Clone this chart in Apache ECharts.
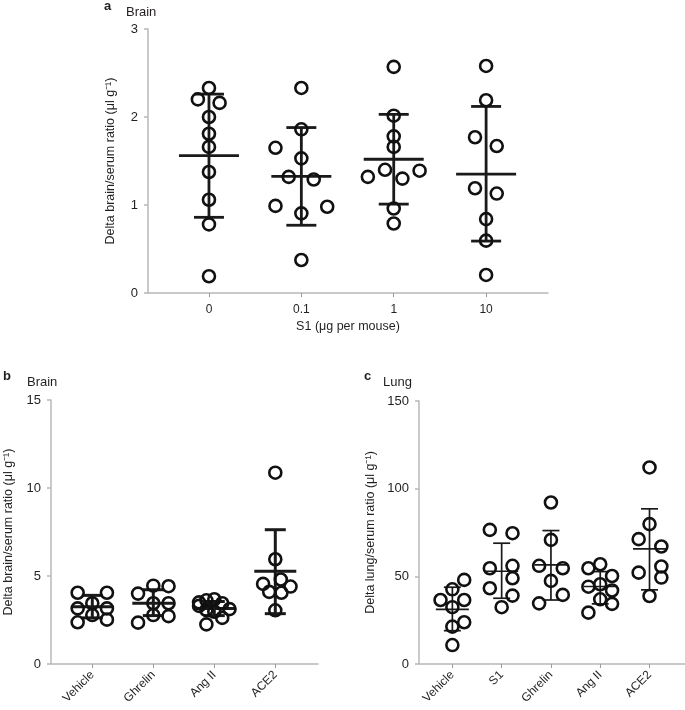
<!DOCTYPE html>
<html>
<head>
<meta charset="utf-8">
<script src="https://cdn.jsdelivr.net/npm/echarts@6/dist/echarts.min.js"></script>
<style>html,body{margin:0;padding:0;background:#fff}#c{width:685px;height:710px}</style>
</head>
<body>
<div id="c"></div>
<script>
// ---------- Panel a: Brain, S1 dose ----------
const catsA = ['0', '0.1', '1', '10'];
const valsA = [
  [2.33, 2.20, 2.16, 2.00, 1.81, 1.66, 1.375, 1.06, 0.78, 0.19],
  [2.33, 1.86, 1.65, 1.53, 1.32, 1.29, 0.99, 0.98, 0.905, 0.375],
  [2.57, 2.015, 1.78, 1.66, 1.40, 1.39, 1.32, 1.30, 0.96, 0.79],
  [2.58, 2.19, 1.77, 1.67, 1.19, 1.13, 0.84, 0.595, 0.205]
];
const jitA = [
  [0, -0.12, 0.115, 0, 0, 0, 0, 0, 0, 0],
  [0, 0, -0.28, 0, -0.137, 0.134, -0.28, 0.28, 0, 0],
  [0, 0, 0, 0, -0.094, 0.28, -0.28, 0.094, 0, 0],
  [0, 0, -0.12, 0.115, -0.12, 0.115, 0, 0, 0]
];
const meanA = [1.56, 1.326, 1.52, 1.35];
const sdLoA = [0.86, 0.77, 1.01, 0.59];
const sdHiA = [2.26, 1.88, 2.03, 2.12];

// ---------- Panel b: Brain ----------
const catsB = ['Vehicle', 'Ghrelin', 'Ang II', 'ACE2'];
const valsB = [
  [4.05, 4.05, 3.45, 3.16, 3.16, 2.78, 2.52, 2.37],
  [4.45, 4.42, 4.0, 3.45, 3.45, 2.78, 2.72, 2.35],
  [3.5, 3.62, 3.68, 3.45, 3.12, 3.07, 2.97, 2.62, 2.25, 3.3],
  [10.87, 5.95, 4.8, 4.55, 4.4, 4.1, 4.05, 3.05]
];
const jitB = [
  [-0.24, 0.24, 0, -0.24, 0.24, 0, 0.24, -0.24],
  [0, 0.25, -0.25, 0, 0.25, 0, 0.25, -0.25],
  [-0.25, -0.13, 0, 0.13, 0.25, -0.13, 0, 0.13, -0.13, -0.25],
  [0, 0, 0.09, -0.2, 0.25, -0.1, 0.1, 0]
];
const meanB = [3.25, 3.45, 3.15, 5.27];
const sdLoB = [2.62, 2.75, 2.75, 2.86];
const sdHiB = [3.9, 4.22, 3.55, 7.63];
const starCatB = [3];
const starValB = [11.65];
const starTxtB = ['*'];

// ---------- Panel c: Lung ----------
const catsC = ['Vehicle', 'S1', 'Ghrelin', 'Ang II', 'ACE2'];
const valsC = [
  [47.96, 42.6, 36.5, 36.5, 32.4, 23.8, 21.3, 10.8],
  [76.5, 74.6, 54.6, 56.0, 48.9, 43.2, 39.0, 32.4],
  [92.1, 70.8, 56.0, 54.6, 47.4, 39.4, 34.6],
  [56.9, 54.6, 50.2, 44.1, 45.5, 41.9, 36.9, 34.3, 29.3],
  [112.1, 79.8, 71.2, 67.0, 55.6, 52.1, 49.3, 38.8]
];
const jitC = [
  [0.24, 0, -0.24, 0.24, 0, 0.24, 0, 0],
  [-0.24, 0.22, -0.24, 0.22, 0.22, -0.24, 0.22, 0],
  [0, 0, -0.24, 0.24, 0, 0.24, -0.24],
  [0, -0.24, 0.24, -0.24, 0, 0.24, 0, 0.24, -0.24],
  [0, 0, -0.22, 0.24, 0.24, -0.22, 0.24, 0]
];
const meanC = [31.2, 52.9, 56.5, 44.2, 65.7];
const sdLoC = [19.0, 37.5, 36.5, 34.3, 42.3];
const sdHiC = [43.8, 68.9, 76.1, 52.7, 88.5];
const starCatC = [1, 2, 4];
const starValC = [85, 103, 120.5];
const starTxtC = ['*', '*', '***'];

const yTitleBrain = 'Delta brain/serum ratio (\u03bcl g\u207b\u00b9)';
const yTitleLung = 'Delta lung/serum ratio (\u03bcl g\u207b\u00b9)';

// ---------- build ----------
const FONT = 'Liberation Sans, Arial, Helvetica, sans-serif';
const TXT = '#231f20';
const AXC = '#b8b8b8';

function pts(vals, jit) {
  const out = [];
  vals.forEach((g, i) => g.forEach((v, j) => out.push([i + jit[i][j], v])));
  return out;
}
function bars(mean, lo, hi) {
  return mean.map((m, i) => [i, m, lo[i], hi[i]]);
}
function stars(cats, vals, txt) {
  return cats.map((c, i) => ({ value: [c, vals[i]], label: { formatter: txt[i] } }));
}
function barRender(halfMean, halfCap, lw) {
  return function (params, api) {
    const x = api.value(0);
    const pm = api.coord([x, api.value(1)]);
    const pl = api.coord([x, api.value(2)]);
    const ph = api.coord([x, api.value(3)]);
    const st = { stroke: '#1a1a1a', lineWidth: lw, fill: null };
    return {
      type: 'group',
      children: [
        { type: 'line', shape: { x1: pl[0], y1: pl[1], x2: ph[0], y2: ph[1] }, style: st },
        { type: 'line', shape: { x1: ph[0] - halfCap, y1: ph[1], x2: ph[0] + halfCap, y2: ph[1] }, style: st },
        { type: 'line', shape: { x1: pl[0] - halfCap, y1: pl[1], x2: pl[0] + halfCap, y2: pl[1] }, style: st },
        { type: 'line', shape: { x1: pm[0] - halfMean, y1: pm[1], x2: pm[0] + halfMean, y2: pm[1] }, style: st }
      ]
    };
  };
}
function xAxis(gi, cats, min, max, rotate) {
  const idx = cats.map((_, i) => i);
  return {
    type: 'value', gridIndex: gi, min: min, max: max,
    axisLine: { show: true, onZero: false, lineStyle: { color: AXC, width: 1.5 } },
    axisTick: { show: true, customValues: idx, length: 4, lineStyle: { color: '#999', width: 1 } },
    axisLabel: {
      customValues: idx, formatter: v => cats[Math.round(v)], rotate: rotate,
      margin: rotate ? 9 : 11, color: TXT, fontFamily: FONT, fontSize: 12
    },
    splitLine: { show: false }
  };
}
function yAxis(gi, max, interval, name, gap) {
  return {
    type: 'value', gridIndex: gi, min: 0, max: max, interval: interval,
    name: name, nameLocation: 'middle', nameGap: gap,
    nameTextStyle: { color: TXT, fontFamily: FONT, fontSize: 12.5 },
    axisLine: { show: true, onZero: false, lineStyle: { color: AXC, width: 1.5 } },
    axisTick: { show: true, length: 4, lineStyle: { color: AXC, width: 1.5 } },
    axisLabel: { margin: 10, color: TXT, fontFamily: FONT, fontSize: 13 },
    splitLine: { show: false }
  };
}
function scat(gi, data, size, bw) {
  return {
    type: 'scatter', xAxisIndex: gi, yAxisIndex: gi, data: data, symbol: 'circle', symbolSize: size,
    itemStyle: { color: 'rgba(255,255,255,0)', borderColor: '#111', borderWidth: bw, opacity: 1 },
    z: 3, silent: true
  };
}
function starSeries(gi, data) {
  return {
    type: 'scatter', xAxisIndex: gi, yAxisIndex: gi, data: data, symbol: 'none', symbolSize: 1,
    label: { show: true, position: 'inside', color: '#444', fontFamily: FONT, fontSize: 10 },
    z: 4, silent: true
  };
}

const xa = xAxis(0, catsA, -0.66, 3.67, 0);
xa.name = 'S1 (\u03bcg per mouse)';
xa.nameLocation = 'middle';
xa.nameGap = 27;
xa.nameTextStyle = { color: TXT, fontFamily: FONT, fontSize: 12.5 };

const option = {
  animation: false,
  backgroundColor: '#fff',
  textStyle: { fontFamily: FONT },
  grid: [
    { left: 148, top: 29, width: 400, height: 264 },
    { left: 51, top: 400, width: 267, height: 264 },
    { left: 419, top: 401, width: 266, height: 263 }
  ],
  xAxis: [xa, xAxis(1, catsB, -0.677, 3.70, 45), xAxis(2, catsC, -0.677, 4.72, 45)],
  yAxis: [
    yAxis(0, 3, 1, yTitleBrain, 31),
    yAxis(1, 15, 5, yTitleBrain, 36),
    yAxis(2, 150, 50, yTitleLung, 42)
  ],
  graphic: [
    { type: 'text', left: 104, top: 0, style: { text: 'a', font: 'bold 13px ' + FONT, fill: TXT } },
    { type: 'text', left: 126, top: 6, style: { text: 'Brain', font: '13px ' + FONT, fill: TXT } },
    { type: 'text', left: 3, top: 370, style: { text: 'b', font: 'bold 13px ' + FONT, fill: TXT } },
    { type: 'text', left: 27, top: 376, style: { text: 'Brain', font: '13px ' + FONT, fill: TXT } },
    { type: 'text', left: 364, top: 370, style: { text: 'c', font: 'bold 13px ' + FONT, fill: TXT } },
    { type: 'text', left: 383, top: 376, style: { text: 'Lung', font: '13px ' + FONT, fill: TXT } }
  ],
  series: [
    scat(0, pts(valsA, jitA), 12, 2.6),
    { type: 'custom', xAxisIndex: 0, yAxisIndex: 0, data: bars(meanA, sdLoA, sdHiA), renderItem: barRender(30, 15, 2.8), z: 2, silent: true },
    scat(1, pts(valsB, jitB), 12, 2.6),
    { type: 'custom', xAxisIndex: 1, yAxisIndex: 1, data: bars(meanB, sdLoB, sdHiB), renderItem: barRender(21, 10.5, 3), z: 2, silent: true },
    starSeries(1, stars(starCatB, starValB, starTxtB)),
    scat(2, pts(valsC, jitC), 12, 2.6),
    { type: 'custom', xAxisIndex: 2, yAxisIndex: 2, data: bars(meanC, sdLoC, sdHiC), renderItem: barRender(16.5, 8.5, 1.7), z: 2, silent: true },
    starSeries(2, stars(starCatC, starValC, starTxtC))
  ]
};
const chart = echarts.init(document.getElementById('c'), null, { renderer: 'canvas' });
chart.setOption(option);
</script>
</body>
</html>
